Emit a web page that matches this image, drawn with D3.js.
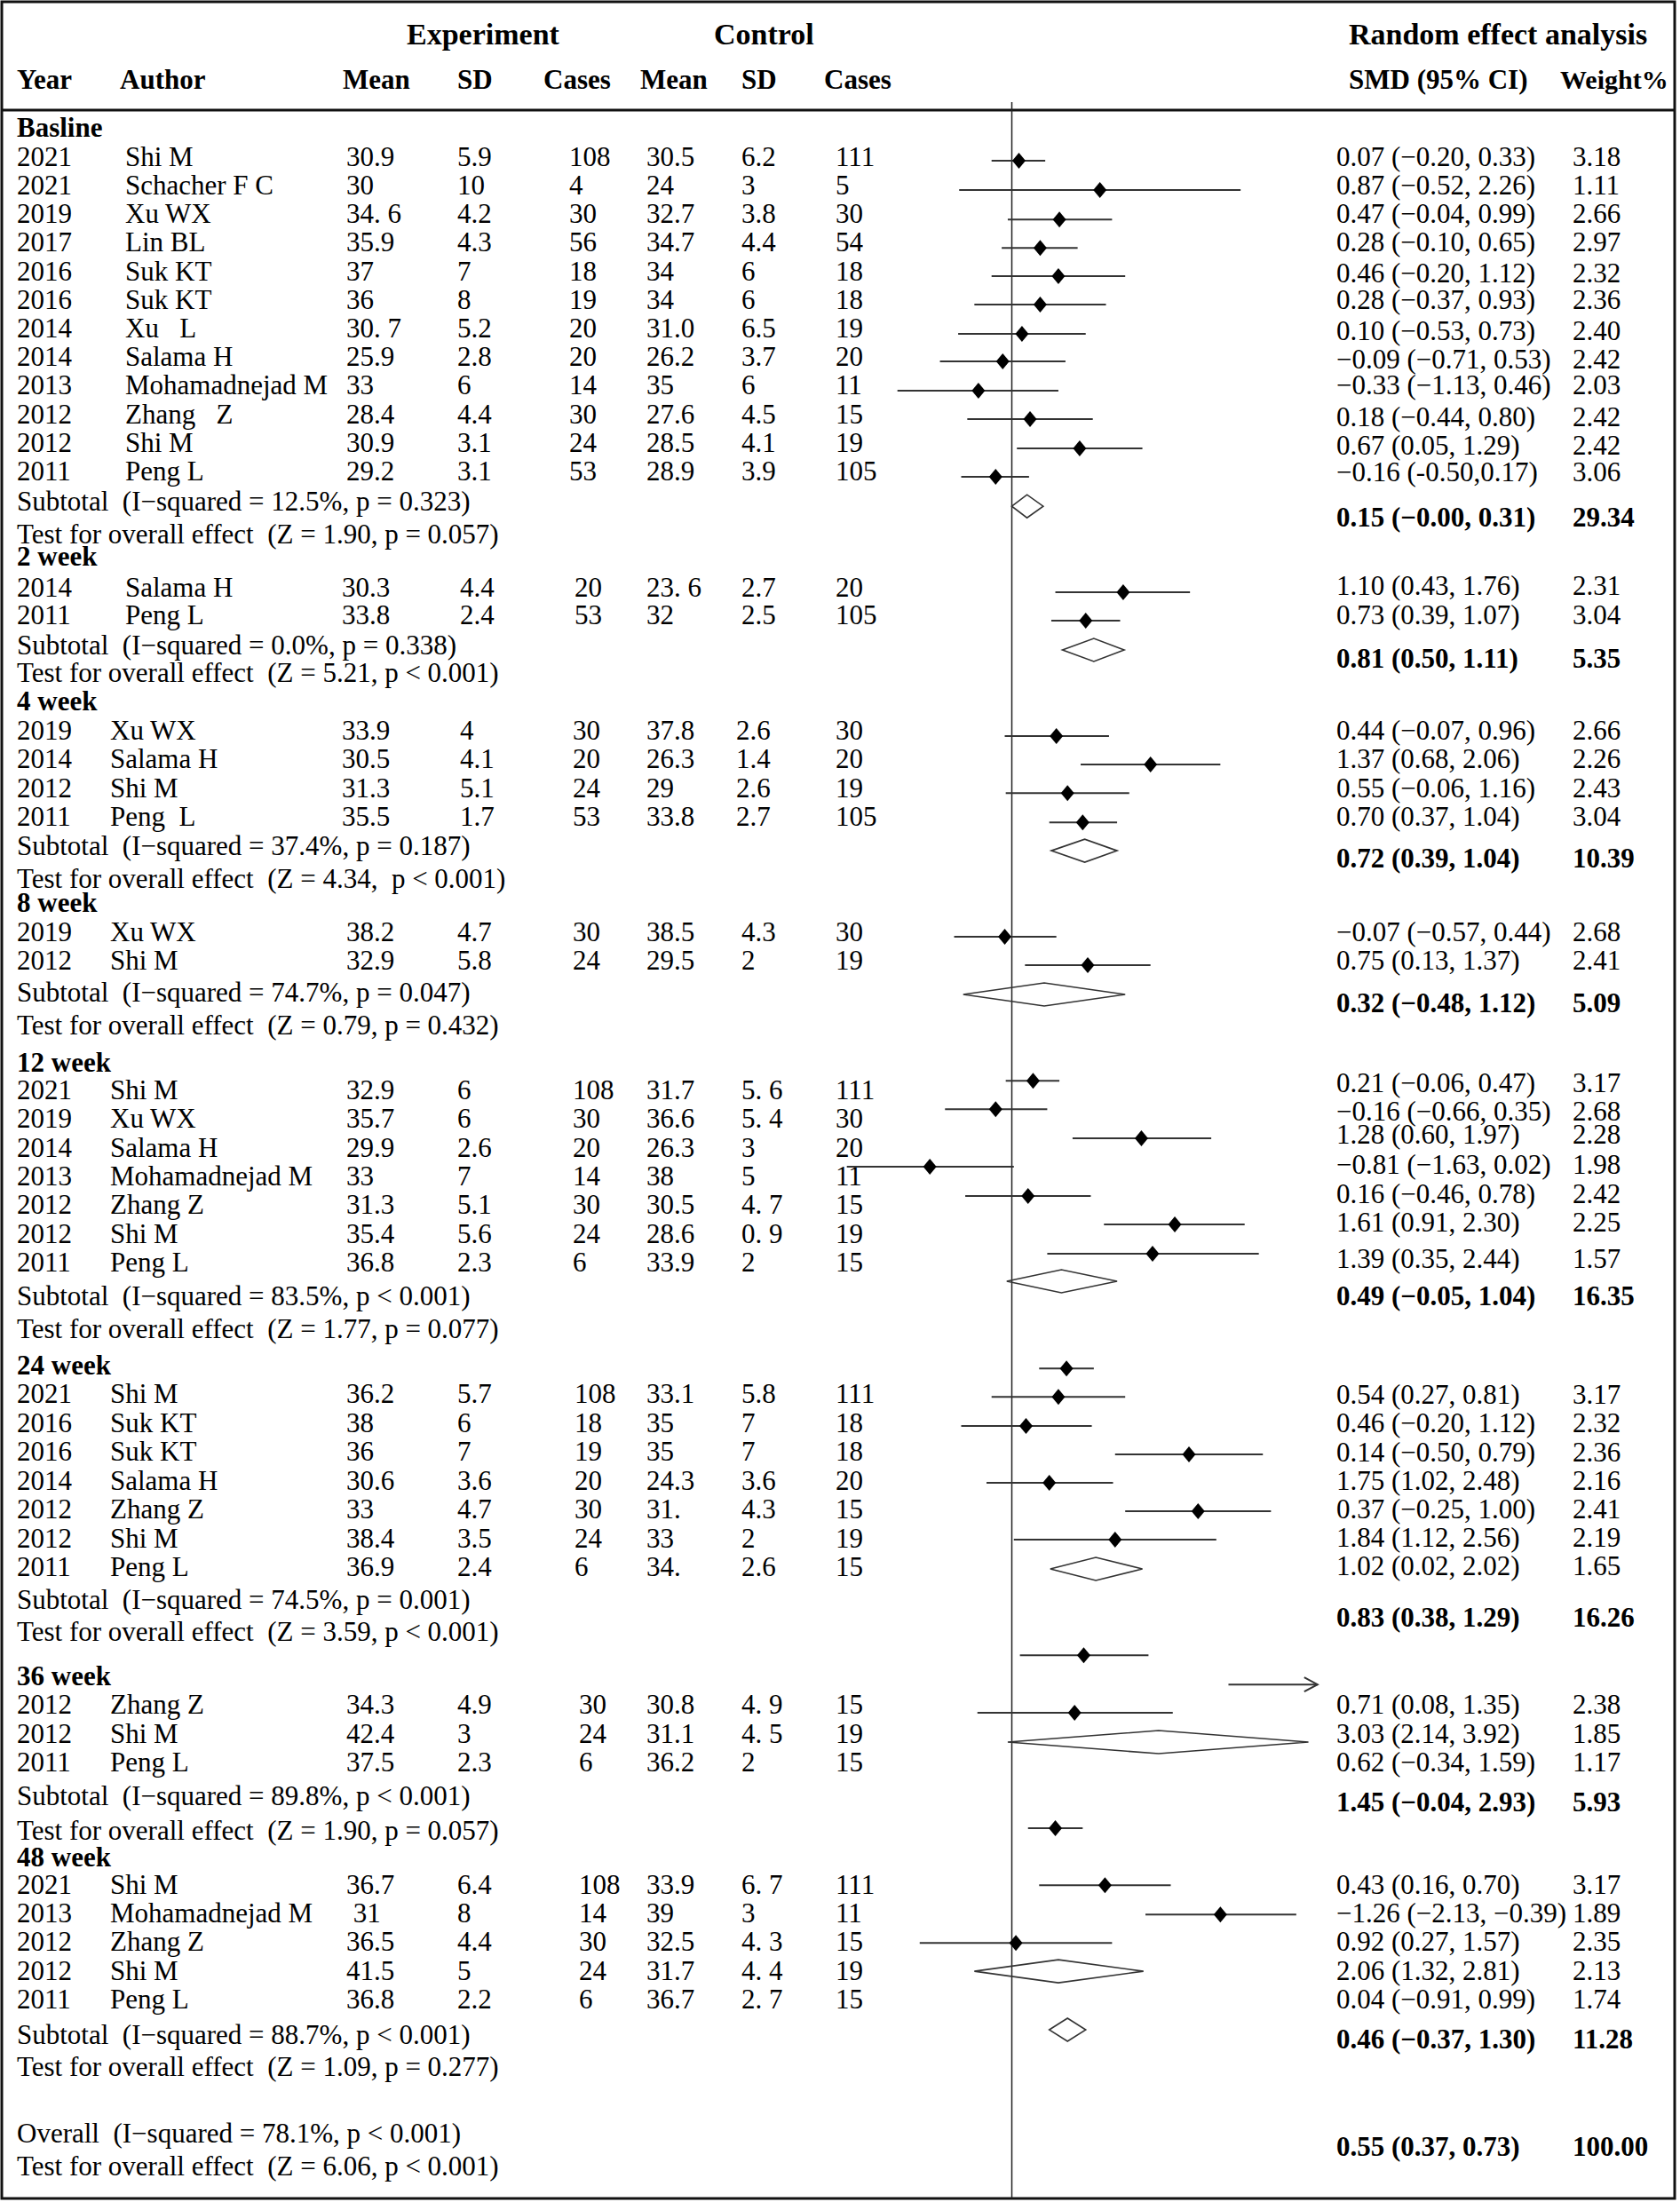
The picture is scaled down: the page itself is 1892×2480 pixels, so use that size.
<!DOCTYPE html>
<html>
<head>
<meta charset="utf-8">
<script src="https://cdn.jsdelivr.net/npm/d3@7"></script>
<style>
  body { margin: 0; background: #fff; }
  text { font-family: 'Liberation Serif', 'Times New Roman', serif; white-space: pre; fill: #000; }
</style>
</head>
<body>
<svg id="chart" width="1892" height="2480"></svg>
<script>
// ---------------- DATA ----------------
const sections = ["Basline", "2 week", "4 week", "8 week", "12 week", "24 week", "36 week", "48 week"];

const studySection = [0,0,0,0,0,0,0,0,0,0,0,0, 1,1, 2,2,2,2, 3,3, 4,4,4,4,4,4,4, 5,5,5,5,5,5,5, 6,6,6, 7,7,7,7,7];

const years = [2021,2021,2019,2017,2016,2016,2014,2014,2013,2012,2012,2011,
  2014,2011,
  2019,2014,2012,2011,
  2019,2012,
  2021,2019,2014,2013,2012,2012,2011,
  2021,2016,2016,2014,2012,2012,2011,
  2012,2012,2011,
  2021,2013,2012,2012,2011];

const authors = ["Shi M","Schacher F C","Xu WX","Lin BL","Suk KT","Suk KT","Xu   L","Salama H","Mohamadnejad M","Zhang   Z","Shi M","Peng L",
  "Salama H","Peng L",
  "Xu WX","Salama H","Shi M","Peng  L",
  "Xu WX","Shi M",
  "Shi M","Xu WX","Salama H","Mohamadnejad M","Zhang Z","Shi M","Peng L",
  "Shi M","Suk KT","Suk KT","Salama H","Zhang Z","Shi M","Peng L",
  "Zhang Z","Shi M","Peng L",
  "Shi M","Mohamadnejad M","Zhang Z","Shi M","Peng L"];

const expMean = ["30.9","30","34. 6","35.9","37","36","30. 7","25.9","33","28.4","30.9","29.2",
  "30.3","33.8",
  "33.9","30.5","31.3","35.5",
  "38.2","32.9",
  "32.9","35.7","29.9","33","31.3","35.4","36.8",
  "36.2","38","36","30.6","33","38.4","36.9",
  "34.3","42.4","37.5",
  "36.7"," 31","36.5","41.5","36.8"];
const expSD = ["5.9","10","4.2","4.3","7","8","5.2","2.8","6","4.4","3.1","3.1",
  "4.4","2.4",
  "4","4.1","5.1","1.7",
  "4.7","5.8",
  "6","6","2.6","7","5.1","5.6","2.3",
  "5.7","6","7","3.6","4.7","3.5","2.4",
  "4.9","3","2.3",
  "6.4","8","4.4","5","2.2"];
const expN = [108,4,30,56,18,19,20,20,14,30,24,53,
  20,53,
  30,20,24,53,
  30,24,
  108,30,20,14,30,24,6,
  108,18,19,20,30,24,6,
  30,24,6,
  108,14,30,24,6];
const ctlMean = ["30.5","24","32.7","34.7","34","34","31.0","26.2","35","27.6","28.5","28.9",
  "23. 6","32",
  "37.8","26.3","29","33.8",
  "38.5","29.5",
  "31.7","36.6","26.3","38","30.5","28.6","33.9",
  "33.1","35","35","24.3","31.","33","34.",
  "30.8","31.1","36.2",
  "33.9","39","32.5","31.7","36.7"];
const ctlSD = ["6.2","3","3.8","4.4","6","6","6.5","3.7","6","4.5","4.1","3.9",
  "2.7","2.5",
  "2.6","1.4","2.6","2.7",
  "4.3","2",
  "5. 6","5. 4","3","5","4. 7","0. 9","2",
  "5.8","7","7","3.6","4.3","2","2.6",
  "4. 9","4. 5","2",
  "6. 7","3","4. 3","4. 4","2. 7"];
const ctlN = [111,5,30,54,18,18,19,20,11,15,19,105,
  20,105,
  30,20,19,105,
  30,19,
  111,30,20,11,15,19,15,
  111,18,18,20,15,19,15,
  15,19,15,
  111,11,15,19,15];

const smd = [0.07,0.87,0.47,0.28,0.46,0.28,0.10,-0.09,-0.33,0.18,0.67,-0.16,
  1.10,0.73,
  0.44,1.37,0.55,0.70,
  -0.07,0.75,
  0.21,-0.16,1.28,-0.81,0.16,1.61,1.39,
  0.54,0.46,0.14,1.75,0.37,1.84,1.02,
  0.71,3.03,0.62,
  0.43,-1.26,0.92,2.06,0.04];
const ciLo = [-0.20,-0.52,-0.04,-0.10,-0.20,-0.37,-0.53,-0.71,-1.13,-0.44,0.05,-0.50,
  0.43,0.39,
  -0.07,0.68,-0.06,0.37,
  -0.57,0.13,
  -0.06,-0.66,0.60,-1.63,-0.46,0.91,0.35,
  0.27,-0.20,-0.50,1.02,-0.25,1.12,0.02,
  0.08,2.14,-0.34,
  0.16,-2.13,0.27,1.32,-0.91];
const ciHi = [0.33,2.26,0.99,0.65,1.12,0.93,0.73,0.53,0.46,0.80,1.29,0.17,
  1.76,1.07,
  0.96,2.06,1.16,1.04,
  0.44,1.37,
  0.47,0.35,1.97,0.02,0.78,2.30,2.44,
  0.81,1.12,0.79,2.48,1.00,2.56,2.02,
  1.35,3.92,1.59,
  0.70,-0.39,1.57,2.81,0.99];
const weights = ["3.18","1.11","2.66","2.97","2.32","2.36","2.40","2.42","2.03","2.42","2.42","3.06",
  "2.31","3.04",
  "2.66","2.26","2.43","3.04",
  "2.68","2.41",
  "3.17","2.68","2.28","1.98","2.42","2.25","1.57",
  "3.17","2.32","2.36","2.16","2.41","2.19","1.65",
  "2.38","1.85","1.17",
  "3.17","1.89","2.35","2.13","1.74"];
// label printed differently in the source
const labelOverride = { 11: "\u22120.16 (-0.50,0.17)" };

// subgroup results
const subSmd = [0.15, 0.81, 0.72, 0.32, 0.49, 0.83, 1.45, 0.46];
const subLo  = [-0.00, 0.50, 0.39, -0.48, -0.05, 0.38, -0.04, -0.37];
const subHi  = [0.31, 1.11, 1.04, 1.12, 1.04, 1.29, 2.93, 1.30];
const subWeight = ["29.34","5.35","10.39","5.09","16.35","16.26","5.93","11.28"];
const subI2 = ["12.5%","0.0%","37.4%","74.7%","83.5%","74.5%","89.8%","88.7%"];
const subP  = ["p = 0.323","p = 0.338","p = 0.187","p = 0.047","p < 0.001","p = 0.001","p < 0.001","p < 0.001"];
const testZ = ["1.90","5.21","4.34","0.79","1.77","3.59","1.90","1.09"];
const testP = ["p = 0.057","p < 0.001"," p < 0.001","p = 0.432","p = 0.077","p < 0.001","p = 0.057","p = 0.277"];

const overall = { smd: 0.55, lo: 0.37, hi: 0.73, weight: "100.00", i2: "78.1%", p: "p < 0.001", z: "6.06", zp: "p < 0.001" };

// ---------------- LAYOUT (row positions in row units) ----------------
const sectionRow = [0, 14.95, 20.0, 27.03, 32.6, 43.16, 54.0, 60.3];
const studyTextRow = [1.02,2.01,3.0,3.99,5.02,6.0,7.0,7.99,8.98,10.0,10.99,11.98,
  16.04,17.0,
  21.02,22.0,23.03,24.02,
  28.05,29.04,
  33.56,34.55,35.57,36.56,37.55,38.58,39.57,
  44.15,45.17,46.16,47.18,48.17,49.2,50.19,
  54.98,56.0,57.0,
  61.27,62.26,63.25,64.27,65.26];
const studyStatRow = [1.02,2.01,3.0,3.99,5.08,6.0,7.09,8.08,8.98,10.09,11.08,12.01,
  15.98,17.0,
  21.02,22.0,23.03,24.02,
  28.05,29.04,
  33.31,34.3,35.11,36.16,37.18,38.17,39.44,
  44.18,45.17,46.19,47.18,48.17,49.16,50.15,
  54.98,56.0,57.0,
  61.27,62.26,63.25,64.27,65.26];
const studyMarkRow = [1.02,2.04,3.07,4.06,5.05,6.04,7.06,8.02,9.04,10.03,11.05,12.04,
  16.07,17.06,
  21.08,22.07,23.07,24.09,
  28.08,29.07,
  33.1,34.09,35.11,36.1,37.12,38.11,39.13,
  43.13,44.12,45.14,46.13,47.12,48.11,49.1,
  53.13,54.15,55.14,
  59.16,null,61.15,62.17,63.16];
const subTextRow = [13.03, 18.05, 25.05, 30.15, 40.74, 51.33, 58.17, 66.5];
const testRow    = [14.18, 19.0, 26.19, 31.3, 41.89, 52.45, 59.38, 67.6];
const subStatRow = [13.59, 18.51, 25.48, 30.53, 40.74, 51.95, 58.39, 66.65];
const subMarkRow = [13.07, 18.08, 25.08, 30.09, 40.09, 50.12, 56.16, 64.15];
const overallRows = { text: 69.94, test: 71.08, stat: 70.4, mark: 66.19 };

// column x positions per section
const colYear = 19;
const colAuthor = [141,141,124,124,124,124,124,124];
const colMean = [390,385,385,390,390,390,390,390];
const colSD = [515,518,518,515,515,515,515,515];
const colCases = [641,647,645,645,645,647,652,652];
const colCMean = 728;
const colCSD = [835,835,829,835,835,835,835,835];
const colCCases = 941;
const colStat = 1505, colWeight = 1771;

// ---------------- DRAW ----------------
const W = 1892, H = 2480, FS = 31;
const svg = d3.select("#chart");
svg.append("rect").attr("width", W).attr("height", H).attr("fill", "#fff");

const y = d3.scaleLinear().domain([0, 71.08]).range([154, 2450]);
const x = d3.scaleLinear().domain([-1.7, 3.02]).range([945.7, 1483.8]);
const MARK_DY = -6;

const fmt = v => ((v < 0 || Object.is(v, -0)) ? "\u2212" : "") + Math.abs(v).toFixed(2);
const ciLabel = (e, l, h) => `${fmt(e)} (${fmt(l)}, ${fmt(h)})`;

function text(g, xx, yy, s, opts = {}) {
  return g.append("text").attr("x", xx).attr("y", yy)
    .attr("font-size", opts.size || FS)
    .attr("font-weight", opts.bold ? "bold" : "normal")
    .text(s);
}

// frame
svg.append("rect").attr("x", 2).attr("y", 2).attr("width", 1884).attr("height", 2474)
  .attr("fill", "none").attr("stroke", "#111").attr("stroke-width", 3);
svg.append("line").attr("x1", 2).attr("x2", 1886).attr("y1", 124).attr("y2", 124)
  .attr("stroke", "#111").attr("stroke-width", 3);

// headers
const hdr = svg.append("g");
text(hdr, 458, 50, "Experiment", { bold: true, size: 34 });
text(hdr, 804, 50, "Control", { bold: true, size: 34 });
text(hdr, 1519, 50, "Random effect analysis", { bold: true, size: 34 });
const colHeads = [["Year", 19], ["Author", 135], ["Mean", 386], ["SD", 515], ["Cases", 612],
  ["Mean", 721], ["SD", 835], ["Cases", 928], ["SMD (95% CI)", 1519], ["Weight%", 1757]];
colHeads.forEach(([s, xx]) => text(hdr, xx, 100, s, { bold: true, size: s === "Weight%" ? 30 : FS }));

// zero line
svg.append("line").attr("x1", x(0)).attr("x2", x(0)).attr("y1", 115).attr("y2", 2476)
  .attr("stroke", "#222").attr("stroke-width", 1.5);

// table text
const tbl = svg.append("g");
sections.forEach((s, k) => text(tbl, colYear, y(sectionRow[k]), s, { bold: true }));

const studies = d3.range(years.length).map(i => ({
  i, s: studySection[i], year: years[i], author: authors[i],
  em: expMean[i], es: expSD[i], en: expN[i], cm: ctlMean[i], cs: ctlSD[i], cn: ctlN[i],
  smd: smd[i], lo: ciLo[i], hi: ciHi[i], w: weights[i],
  label: labelOverride[i] || ciLabel(smd[i], ciLo[i], ciHi[i]),
  tr: studyTextRow[i], sr: studyStatRow[i], mr: studyMarkRow[i]
}));

studies.forEach(d => {
  const yy = y(d.tr), k = d.s;
  text(tbl, colYear, yy, String(d.year));
  text(tbl, colAuthor[k], yy, d.author);
  text(tbl, colMean[k], yy, d.em);
  text(tbl, colSD[k], yy, d.es);
  text(tbl, colCases[k], yy, String(d.en));
  text(tbl, colCMean, yy, d.cm);
  text(tbl, colCSD[k], yy, d.cs);
  text(tbl, colCCases, yy, String(d.cn));
  const ys = y(d.sr);
  text(tbl, colStat, ys, d.label);
  text(tbl, colWeight, ys, d.w);
});

sections.forEach((s, k) => {
  text(tbl, colYear, y(subTextRow[k]), `Subtotal  (I\u2212squared = ${subI2[k]}, ${subP[k]})`);
  text(tbl, colYear, y(testRow[k]), `Test for overall effect  (Z = ${testZ[k]}, ${testP[k]})`);
  text(tbl, colStat, y(subStatRow[k]), ciLabel(subSmd[k], subLo[k], subHi[k]), { bold: true });
  text(tbl, colWeight, y(subStatRow[k]), subWeight[k], { bold: true });
});
text(tbl, colYear, y(overallRows.text), `Overall  (I\u2212squared = ${overall.i2}, ${overall.p})`);
text(tbl, colYear, y(overallRows.test), `Test for overall effect  (Z = ${overall.z}, ${overall.zp})`);
text(tbl, colStat, y(overallRows.stat), ciLabel(overall.smd, overall.lo, overall.hi), { bold: true });
text(tbl, colWeight, y(overallRows.stat), overall.weight, { bold: true });

// plot marks
const plot = svg.append("g");
const [xmin, xmax] = x.domain();
const drawn = studies.filter(d => d.mr != null);

drawn.forEach(d => {
  const yc = y(d.mr) + MARK_DY;
  const l = Math.max(d.lo, xmin), h = Math.min(d.hi, xmax);
  plot.append("line").attr("x1", x(l)).attr("x2", x(h)).attr("y1", yc).attr("y2", yc)
    .attr("stroke", "#333").attr("stroke-width", 2);
  if (d.hi > xmax) {
    plot.append("path")
      .attr("d", `M${x(xmax) - 15},${yc - 8} L${x(xmax)},${yc} L${x(xmax) - 15},${yc + 8}`)
      .attr("fill", "none").attr("stroke", "#333").attr("stroke-width", 2);
  }
  if (d.smd >= xmin && d.smd <= xmax) {
    const cx = x(d.smd);
    plot.append("path")
      .attr("d", `M${cx},${yc - 9} L${cx + 7.5},${yc} L${cx},${yc + 9} L${cx - 7.5},${yc} Z`)
      .attr("fill", "#000");
  }
});

function hollowDiamond(e, l, h, row) {
  const yc = y(row) + MARK_DY;
  plot.append("path")
    .attr("d", `M${x(l)},${yc} L${x(e)},${yc - 13} L${x(h)},${yc} L${x(e)},${yc + 13} Z`)
    .attr("fill", "none").attr("stroke", "#333").attr("stroke-width", 1.6);
}
sections.forEach((s, k) => hollowDiamond(subSmd[k], subLo[k], subHi[k], subMarkRow[k]));
hollowDiamond(overall.smd, overall.lo, overall.hi, overallRows.mark);
</script>
</body>
</html>
